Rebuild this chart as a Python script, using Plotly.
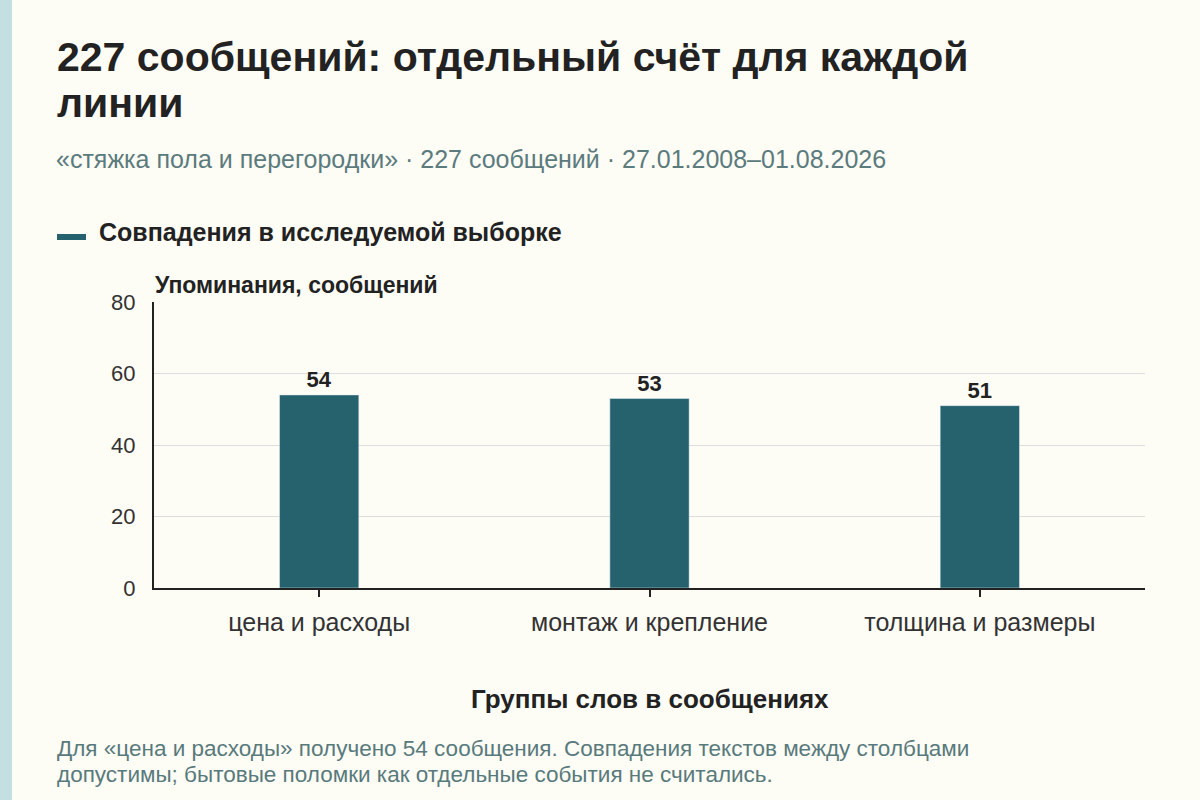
import plotly.graph_objects as go

categories = ["цена и расходы", "монтаж и крепление", "толщина и размеры"]
values = [54, 53, 51]
y_ticks = [0, 20, 40, 60, 80]

title_lines = ["227 сообщений: отдельный счёт для каждой", "линии"]
subtitle = "«стяжка пола и перегородки» · 227 сообщений · 27.01.2008–01.08.2026"
legend_name = "Совпадения в исследуемой выборке"
y_title = "Упоминания, сообщений"
x_title = "Группы слов в сообщениях"
note_lines = ["Для «цена и расходы» получено 54 сообщения. Совпадения текстов между столбцами",
              "допустимы; бытовые поломки как отдельные события не считались."]

W, H = 1200, 800
L, R, T, B = 154, 55, 302, 212
BAR = "#26616e"
BG = "#fdfcf5"
FONT = "Liberation Sans, Arial, sans-serif"


def px(x):
    # pixel x -> paper x
    return (x - L) / (W - L - R)


def py(y):
    # pixel y (from top) -> paper y
    return (H - B - y) / (H - T - B)


fig = go.Figure()
fig.add_trace(go.Bar(
    x=categories, y=values, name=legend_name,
    marker=dict(color=BAR), width=0.24,
    text=values, textposition="outside", cliponaxis=False,
    textfont=dict(family=FONT, size=22, color="#222222"),
    texttemplate="<b>%{text}</b>", showlegend=False,
))

# left accent strip
fig.add_shape(type="rect", xref="paper", yref="paper",
              x0=px(0), x1=px(12), y0=py(H), y1=py(0),
              fillcolor="#c4dfe2", line=dict(width=0), layer="below")
# legend swatch
fig.add_shape(type="rect", xref="paper", yref="paper",
              x0=px(57), x1=px(86), y0=py(240), y1=py(234),
              fillcolor=BAR, line=dict(width=0))

ann = [
    dict(text="<b>" + title_lines[0] + "</b>", x=px(55), y=py(57), size=41, color="#222222"),
    dict(text="<b>" + title_lines[1] + "</b>", x=px(55), y=py(103), size=41, color="#222222"),
    dict(text=subtitle, x=px(54), y=py(159), size=25, color="#5b7b7d"),
    dict(text="<b>" + legend_name + "</b>", x=px(97), y=py(232), size=25, color="#222222"),
    dict(text="<b>" + y_title + "</b>", x=px(153), y=py(285), size=23, color="#222222"),
    dict(text=note_lines[0], x=px(55), y=py(748), size=22.5, color="#587a7c"),
    dict(text=note_lines[1], x=px(55), y=py(774), size=22.5, color="#587a7c"),
]
for a in ann:
    fig.add_annotation(text=a["text"], x=a["x"], y=a["y"], xref="paper", yref="paper",
                       xanchor="left", yanchor="middle", align="left", showarrow=False,
                       font=dict(family=FONT, size=a["size"], color=a["color"]))

fig.add_annotation(text="<b>" + x_title + "</b>", x=0.5, y=py(699), xref="paper", yref="paper",
                   xanchor="center", yanchor="middle", showarrow=False,
                   font=dict(family=FONT, size=26, color="#222222"))

fig.update_layout(
    width=W, height=H,
    margin=dict(l=L, r=R, t=T, b=B),
    paper_bgcolor=BG, plot_bgcolor=BG,
    font=dict(family=FONT, color="#333333"),
    xaxis=dict(
        showline=True, linecolor="#222222", linewidth=2,
        ticks="outside", ticklen=7, tickwidth=2, tickcolor="#222222",
        tickfont=dict(size=25, color="#333333"),
        ticklabelstandoff=4,
    ),
    yaxis=dict(
        range=[0, 80], tickvals=y_ticks,
        showline=True, linecolor="#222222", linewidth=2,
        showgrid=True, gridcolor="#dddddd", gridwidth=1,
        zeroline=False, ticks="", ticklabelstandoff=12,
        tickfont=dict(size=22, color="#333333"),
    ),
)

fig.write_html("out.html", config={"displayModeBar": False},
               post_script="document.body.style.margin='0';")
